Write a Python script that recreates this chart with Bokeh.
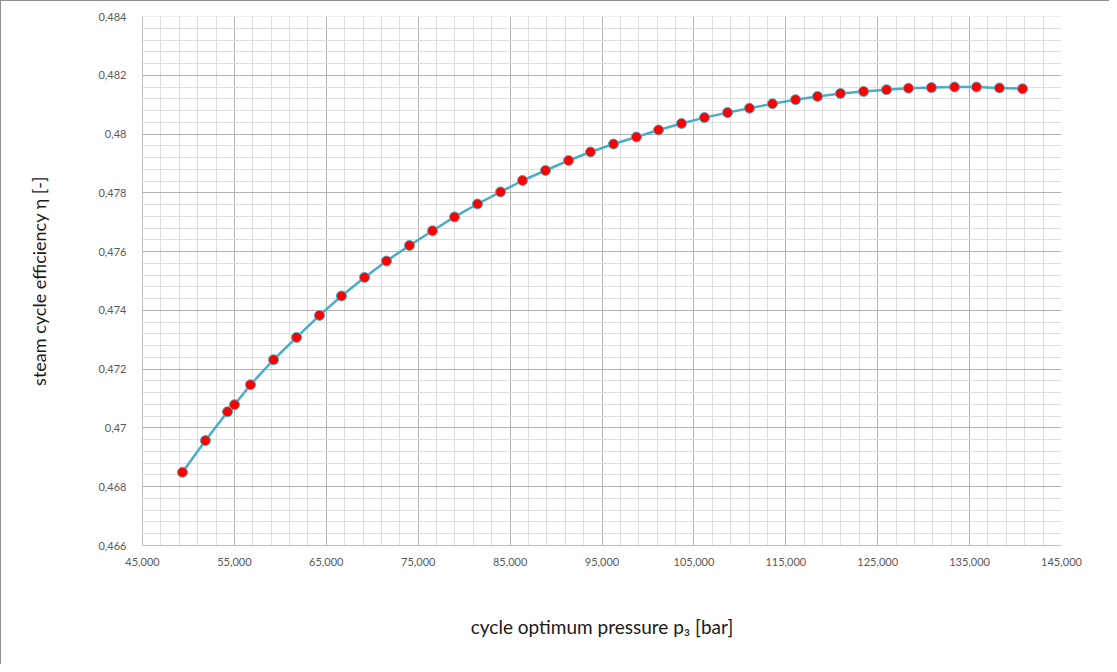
from bokeh.plotting import figure
from bokeh.models import FixedTicker, Range1d
from bokeh.embed import file_html
from bokeh.resources import INLINE

# data
pressure = [49350, 51850, 54250, 55010, 56750, 59260, 61760, 64260, 66650, 69160,
            71550, 74050, 76560, 78950, 81450, 83960, 86350, 88850, 91360, 93750,
            96250, 98750, 101150, 103650, 106150, 108660, 111050, 113550, 116060, 118450,
            120950, 123460, 125960, 128350, 130850, 133360, 135750, 138250, 140760]
efficiency = [0.46849, 0.46957, 0.47055, 0.47079, 0.47147, 0.47232, 0.47308, 0.47383, 0.47449, 0.47512,
              0.47568, 0.47621, 0.47671, 0.47718, 0.47762, 0.47803, 0.47842, 0.47876, 0.47910, 0.47939,
              0.47966, 0.47990, 0.48014, 0.48036, 0.48056, 0.48073, 0.48088, 0.48103, 0.48117, 0.48128,
              0.48138, 0.48145, 0.48151, 0.48156, 0.48158, 0.48160, 0.48160, 0.48157, 0.48154]

x_ticks = [45000, 55000, 65000, 75000, 85000, 95000, 105000, 115000, 125000, 135000, 145000]
x_labels = ["45,000", "55,000", "65,000", "75,000", "85,000", "95,000", "105,000",
            "115,000", "125,000", "135,000", "145,000"]
y_ticks = [0.466, 0.468, 0.470, 0.472, 0.474, 0.476, 0.478, 0.480, 0.482, 0.484]
y_labels = ["0,466", "0,468", "0,47", "0,472", "0,474", "0,476", "0,478", "0,48", "0,482", "0,484"]

x_title = "cycle optimum pressure p\u2083 [bar]"
y_title = "steam cycle efficiency \u03b7 [-]"

FONT = "Lato"

x_minor = [45000 + 2000 * i for i in range(51)]
y_minor = [0.466 + 0.0004 * i for i in range(46)]

p = figure(width=1109, height=664, output_backend="svg", toolbar_location=None,
           x_range=Range1d(45000, 145000), y_range=Range1d(0.466, 0.484),
           min_border_left=141, min_border_right=49, min_border_top=15, min_border_bottom=120)
p.styles = {"border-left": "1px solid #8f8f8f", "border-top": "1px solid #8f8f8f",
            "box-sizing": "border-box"}

p.background_fill_color = "white"
p.border_fill_color = "white"
p.outline_line_color = None

p.xaxis.ticker = FixedTicker(ticks=x_ticks, minor_ticks=x_minor)
p.yaxis.ticker = FixedTicker(ticks=y_ticks, minor_ticks=y_minor)
p.xaxis.major_label_overrides = dict(zip(x_ticks, x_labels))
p.yaxis.major_label_overrides = dict(zip(y_ticks, y_labels))

for ax in (p.xaxis, p.yaxis):
    ax.major_tick_line_color = None
    ax.minor_tick_line_color = None
    ax.axis_line_color = "#bfbfbf"
    ax.major_label_text_font = FONT
    ax.major_label_text_font_size = "11px"
    ax.major_label_text_color = "#595959"
    ax.axis_label_text_font = FONT
    ax.axis_label_text_font_size = "19px"
    ax.axis_label_text_font_style = "normal"
    ax.axis_label_text_color = "#1a1a1a"

p.xaxis.axis_label = x_title
p.yaxis.axis_label = y_title
p.yaxis.axis_label_text_font_size = "18px"
p.xaxis.major_label_standoff = 6
p.yaxis.major_label_standoff = 10
p.xaxis.axis_label_standoff = 46
p.yaxis.axis_label_standoff = 45

for g in (p.xgrid, p.ygrid):
    g.grid_line_color = "#b3b3b3"
    g.grid_line_width = 1
    g.minor_grid_line_color = "#dedede"
    g.minor_grid_line_width = 1

p.line(pressure, efficiency, line_color="#4bacc6", line_width=2.5)
p.scatter(pressure, efficiency, size=10, fill_color="#ff0000", line_color="#4bacc6", line_width=1)

open("out.html", "w").write(file_html(p, INLINE))
